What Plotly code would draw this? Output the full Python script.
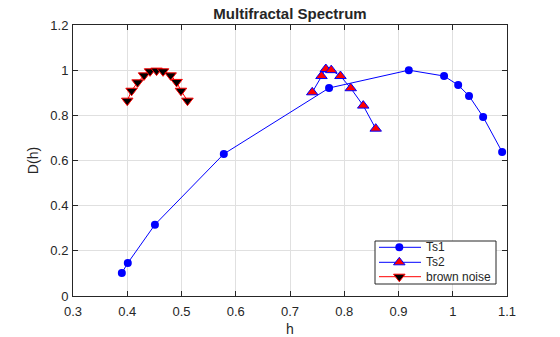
import plotly.graph_objects as go

# Multifractal spectra: singularity strength h vs. dimension D(h)
ts1_h = [0.390, 0.401, 0.451, 0.578, 0.772, 0.919, 0.984, 1.010, 1.030, 1.056, 1.091]
ts1_d = [0.102, 0.146, 0.316, 0.629, 0.921, 1.000, 0.974, 0.934, 0.886, 0.793, 0.638]

ts2_h = [0.741, 0.758, 0.766, 0.776, 0.793, 0.812, 0.835, 0.858]
ts2_d = [0.902, 0.974, 1.005, 1.000, 0.974, 0.920, 0.843, 0.741]

brown_h = [0.400, 0.408, 0.419, 0.431, 0.442, 0.454, 0.466, 0.480, 0.491, 0.499, 0.511]
brown_d = [0.865, 0.909, 0.946, 0.977, 0.995, 0.998, 0.995, 0.977, 0.948, 0.909, 0.865]

series_names = ["Ts1", "Ts2", "brown noise"]

x_ticks = [0.3, 0.4, 0.5, 0.6, 0.7, 0.8, 0.9, 1.0, 1.1]
x_labels = ["0.3", "0.4", "0.5", "0.6", "0.7", "0.8", "0.9", "1", "1.1"]
y_ticks = [0, 0.2, 0.4, 0.6, 0.8, 1.0, 1.2]
y_labels = ["0", "0.2", "0.4", "0.6", "0.8", "1", "1.2"]

ink = "#262626"
font_family = "Liberation Sans, Arial, sans-serif"

W, H = 560, 337
M = dict(l=73, r=53, t=25, b=41)
X_RANGE = [0.3, 1.1]
Y_RANGE = [0.0, 1.2]
plot_w = W - M["l"] - M["r"]
plot_h = H - M["t"] - M["b"]


def px_x(dx):
    """Offset in pixels from the left edge of the plot area -> h value."""
    return X_RANGE[0] + dx * (X_RANGE[1] - X_RANGE[0]) / plot_w


def px_y(dy):
    """Offset in pixels from the bottom edge of the plot area -> D value."""
    return Y_RANGE[0] + dy * (Y_RANGE[1] - Y_RANGE[0]) / plot_h


styles = [
    dict(line=dict(color="#0000ff", width=1),
         marker=dict(symbol="circle", size=8, color="#0000ff", line=dict(width=0))),
    dict(line=dict(color="#0000ff", width=1),
         marker=dict(symbol="triangle-up", size=10, color="#ff0000",
                     line=dict(color="#0000ff", width=1))),
    dict(line=dict(color="#ff0000", width=1),
         marker=dict(symbol="triangle-down", size=10, color="#000000",
                     line=dict(color="#ff0000", width=1))),
]

fig = go.Figure()
for (hx, dy), name, st in zip([(ts1_h, ts1_d), (ts2_h, ts2_d), (brown_h, brown_d)],
                              series_names, styles):
    fig.add_trace(go.Scatter(x=hx, y=dy, mode="lines+markers", name=name,
                             showlegend=False, hoverinfo="skip", **st))

# Compact boxed legend in the lower-right corner of the axes
box_x0, box_x1 = px_x(302), px_x(423)
box_y0, box_y1 = px_y(12), px_y(55)
row_y = [px_y(48.7), px_y(33.7), px_y(19.3)]
seg_x0, seg_xm, seg_x1 = px_x(306), px_x(326.3), px_x(348)
text_x = px_x(351)

fig.add_shape(type="rect", xref="x", yref="y", x0=box_x0, x1=box_x1,
              y0=box_y0, y1=box_y1, fillcolor="white",
              line=dict(color=ink, width=1), layer="between")

for name, st, ry in zip(series_names, styles, row_y):
    fig.add_trace(go.Scatter(x=[seg_x0, seg_x1], y=[ry, ry], mode="lines",
                             line=st["line"], showlegend=False, hoverinfo="skip"))
    fig.add_trace(go.Scatter(x=[seg_xm], y=[ry], mode="markers",
                             marker=st["marker"], showlegend=False, hoverinfo="skip"))
    fig.add_annotation(x=text_x, y=ry, xref="x", yref="y", text=name,
                       showarrow=False, xanchor="left", yanchor="middle",
                       font=dict(size=12, color=ink, family=font_family))

axis_common = dict(
    showline=True, linecolor=ink, linewidth=1, mirror="ticks",
    ticks="inside", ticklen=5, tickcolor=ink, tickwidth=1,
    showgrid=True, gridcolor="#e0e0e0", gridwidth=1,
    zeroline=False, automargin=False,
    tickfont=dict(size=13, color=ink, family=font_family),
)

fig.update_layout(
    width=W, height=H,
    margin=M,
    paper_bgcolor="white", plot_bgcolor="white",
    font=dict(family=font_family, color=ink),
    title=dict(text="<b>Multifractal Spectrum</b>", x=0.5, xref="paper",
               xanchor="center", y=1 - 14 / H, yanchor="middle",
               font=dict(size=15, color=ink, family=font_family)),
    xaxis=dict(range=X_RANGE, tickvals=x_ticks, ticktext=x_labels,
               ticklabelstandoff=3,
               title=dict(text="h", font=dict(size=14, color=ink), standoff=6),
               **axis_common),
    yaxis=dict(range=Y_RANGE, tickvals=y_ticks, ticktext=y_labels,
               ticklabelstandoff=1,
               title=dict(text="D(h)", font=dict(size=14, color=ink), standoff=8),
               **axis_common),
    showlegend=False,
)

fig.write_html("out.html")
